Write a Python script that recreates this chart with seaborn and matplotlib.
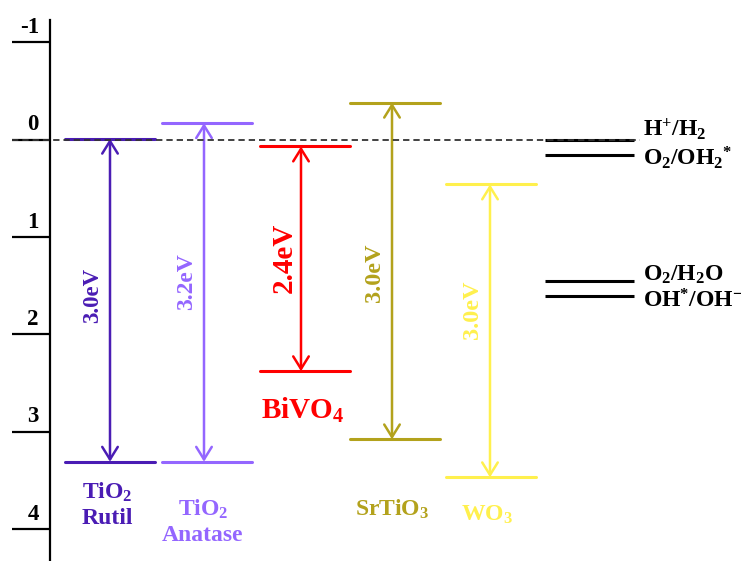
import matplotlib
matplotlib.use("Agg")
import matplotlib.pyplot as plt
import pandas as pd
import seaborn as sns

# Band edges of the photocatalysts (eV, vs. NHE; positive values downwards)
materials = ["TiO$_2$\nRutil", "TiO$_2$\nAnatase", "BiVO$_4$", "SrTiO$_3$", "WO$_3$"]
cb_edges = [-0.01, -0.17, 0.07, -0.38, 0.46]
vb_edges = [3.31, 3.31, 2.38, 3.08, 3.47]
gap_labels = ["3.0eV", "3.2eV", "2.4eV", "3.0eV", "3.0eV"]
colors = ["#4a1cb4", "#9466ff", "#ff0000", "#b3a21c", "#fff04d"]

# Redox couples
redox_names = ["H$^{+}$/H$_2$", "O$_2$/OH$_2$$^{*}$", "O$_2$/H$_2$O", "OH$^{*}$/OH$^{-}$"]
redox_levels = [0.0, 0.16, 1.45, 1.61]

y_ticks = [-1, 0, 1, 2, 3, 4]
y_tick_labels = ["-1", "0", "1", "2", "3", "4"]

# ---- layout (horizontal positions in figure pixels) ----
level_left = [65, 162, 260, 350, 446]
level_width = 90
arrow_x = [110, 204, 301, 392, 490]
gap_label_y = [1.60, 1.46, 1.21, 1.37, 1.75]
gap_label_size = [16.5, 17, 21, 17.5, 17.5]
name_x = [107, 203, 303, 392, 487]
name_y = [3.62, 3.80, 2.78, 3.80, 3.86]
name_size = [17, 17, 21, 17, 17]
redox_x = (545, 634)
redox_label_x = 643
redox_label_y = [-0.04, 0.26, 1.45, 1.72]

sns.set_style("ticks")
plt.rcParams["font.family"] = ["Liberation Serif", "DejaVu Serif"]
plt.rcParams["font.weight"] = "bold"
plt.rcParams["mathtext.fontset"] = "custom"
plt.rcParams["mathtext.rm"] = "Liberation Serif:bold"
plt.rcParams["mathtext.it"] = "Liberation Serif:bold"
plt.rcParams["mathtext.bf"] = "Liberation Serif:bold"

fig = plt.figure(figsize=(7.41, 5.61), dpi=100)
ax = fig.add_axes([50 / 741, 0, 691 / 741, 541 / 561])

# Long-form table of band-edge segments
rows = []
for i, name in enumerate(materials):
    for kind, e in (("CB", cb_edges[i]), ("VB", vb_edges[i])):
        for xp in (level_left[i], level_left[i] + level_width):
            rows.append({"x": xp, "energy": e, "material": name, "seg": f"{i}-{kind}"})
df = pd.DataFrame(rows)

sns.lineplot(data=df, x="x", y="energy", hue="material", units="seg",
             estimator=None, palette=colors, hue_order=materials,
             linewidth=2.2, legend=False, sort=False, ax=ax, zorder=2)

# Band-gap arrows and labels
for i, name in enumerate(materials):
    ax.annotate("", xy=(arrow_x[i], vb_edges[i]), xytext=(arrow_x[i], cb_edges[i]),
                arrowprops=dict(arrowstyle="<->,head_length=0.45,head_width=0.28",
                                color=colors[i], lw=1.8, shrinkA=0, shrinkB=0,
                                mutation_scale=20), zorder=3)
    ax.text(arrow_x[i] - 17, gap_label_y[i], gap_labels[i], rotation=90,
            ha="center", va="center", color=colors[i],
            fontsize=gap_label_size[i], fontweight="bold")
    lines = name.split("\n")
    ax.text(name_x[i], name_y[i], lines[0], ha="center", va="center",
            color=colors[i], fontsize=name_size[i], fontweight="bold")
    if len(lines) > 1:
        ax.text(name_x[i], name_y[i] + 0.27, lines[1], ha="center", va="center",
                color=colors[i], fontsize=name_size[i], fontweight="bold")

# Redox potentials
ax.hlines(redox_levels, redox_x[0], redox_x[1], colors="black", lw=2.2, zorder=4)
for lab, yl in zip(redox_names, redox_label_y):
    ax.text(redox_label_x, yl, lab, ha="left", va="baseline", color="black",
            fontsize=17, fontweight="bold", clip_on=False)

# Reference line at 0 eV
ax.plot([12, 640], [0, 0], ls=(0, (3.5, 2.2)), color="#333333", lw=1.3,
        clip_on=False, zorder=5)

# Axis styling
ax.set_xlim(50, 741)
ax.set_ylim(4.33, -1.23)
for side in ("top", "right", "bottom"):
    ax.spines[side].set_visible(False)
ax.spines["left"].set_linewidth(1.6)
ax.spines["left"].set_color("black")
ax.set_xticks([])
ax.set_yticks(y_ticks)
ax.set_yticklabels([])
ax.tick_params(axis="y", left=True, direction="out", length=27.4, width=1.6,
               color="black")
for t, lab in zip(y_ticks, y_tick_labels):
    ax.text(39, t - 0.095, lab, ha="right", va="baseline", fontsize=16.5,
            fontweight="bold", color="black", clip_on=False)
ax.set_xlabel("")
ax.set_ylabel("")

fig.savefig("out.png", dpi=100)
